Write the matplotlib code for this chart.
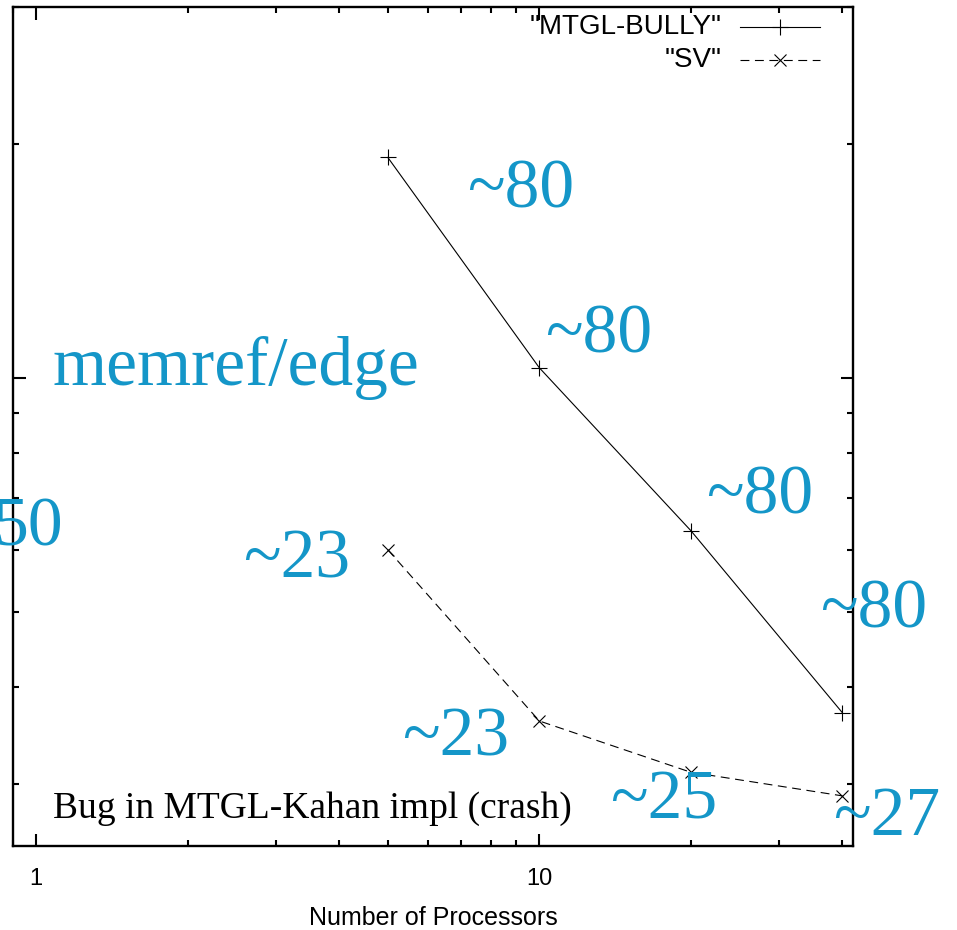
import numpy as np
import matplotlib
matplotlib.use("Agg")
import matplotlib.pyplot as plt
from matplotlib.ticker import LogLocator, NullFormatter, FixedFormatter, FixedLocator

# 数据
procs = [5, 10, 20, 40]
bully_time = [192, 103, 63.6, 37.1]
sv_time = [60.1, 36.2, 31.1, 29.0]
series_labels = ['"MTGL-BULLY"', '"SV"']

# 蓝色注释 (文字, 左x像素, 基线y像素)
notes = [
    ("memref/edge", 52, 385),
    ("~80", 467, 207),
    ("~80", 545, 352),
    ("~80", 706, 514),
    ("~80", 820, 627),
    ("50", -6, 545),
    ("~23", 243, 578),
    ("~23", 402, 755),
    ("~25", 610, 818),
    ("~27", 833, 835),
]
note_text = "Bug in MTGL-Kahan impl (crash)"

W, H = 957, 930
BLUE = "#1496c8"

fig = plt.figure(figsize=(W / 100, H / 100), dpi=100)
ax = fig.add_axes([13 / W, (H - 846) / H, 840 / W, 839.3 / H])

ax.plot(procs, bully_time, color="black", lw=0.8, marker="+", ms=11, mew=0.8)
ax.plot(procs, sv_time, color="black", lw=0.8, ls=(0, (8, 5)), marker="x", ms=9, mew=0.8)

ax.set_xscale("log")
ax.set_yscale("log")
ax.set_xlim(0.9, 42)
ax.set_ylim(25, 300)

ax.xaxis.set_major_locator(FixedLocator([1, 10]))
ax.xaxis.set_major_formatter(FixedFormatter(["1", "10"]))
ax.xaxis.set_minor_locator(LogLocator(base=10, subs=np.arange(2, 10)))
ax.xaxis.set_minor_formatter(NullFormatter())
ax.yaxis.set_major_locator(FixedLocator([100]))
ax.yaxis.set_minor_locator(LogLocator(base=10, subs=np.arange(2, 10)))
ax.yaxis.set_major_formatter(NullFormatter())
ax.yaxis.set_minor_formatter(NullFormatter())

ax.tick_params(which="both", direction="in", top=True, right=True, width=1.5)
ax.tick_params(which="major", length=9)
ax.tick_params(which="minor", length=4.5)
ax.tick_params(axis="x", which="major", pad=16, labelsize=17)
for t in ax.get_xticklabels():
    t.set_family("Liberation Sans")
for s in ax.spines.values():
    s.set_linewidth(1.7)

ax.set_xlabel("Number of Processors", family="Liberation Sans", fontsize=18, labelpad=11)

# 图例 (gnuplot 风格: 文字右对齐, 样本在右)
leg_y = [0.976, 0.936]
styles = [dict(ls="-", marker="+", ms=11), dict(ls=(0, (8, 5)), marker="x", ms=9)]
for lab, y, st in zip(series_labels, leg_y, styles):
    ax.text(0.844, y, lab, transform=ax.transAxes, ha="right", va="center",
            family="Liberation Sans", fontsize=20)
    ax.plot([0.866, 0.961], [y, y], transform=ax.transAxes, color="black", lw=0.8,
            ls=st["ls"], clip_on=False)
    ax.plot([0.9135], [y], transform=ax.transAxes, color="black", marker=st["marker"],
            ms=st["ms"], mew=0.8, ls="none", clip_on=False)

for txt, px, py in notes:
    fig.text(px / W, (H - py) / H, txt, color=BLUE, family="Liberation Serif",
             fontsize=50, ha="left", va="baseline")

fig.text(53 / W, (H - 818) / H, note_text, color="black", family="Liberation Serif",
         fontsize=27, ha="left", va="baseline")

fig.savefig("out.png", dpi=100)
